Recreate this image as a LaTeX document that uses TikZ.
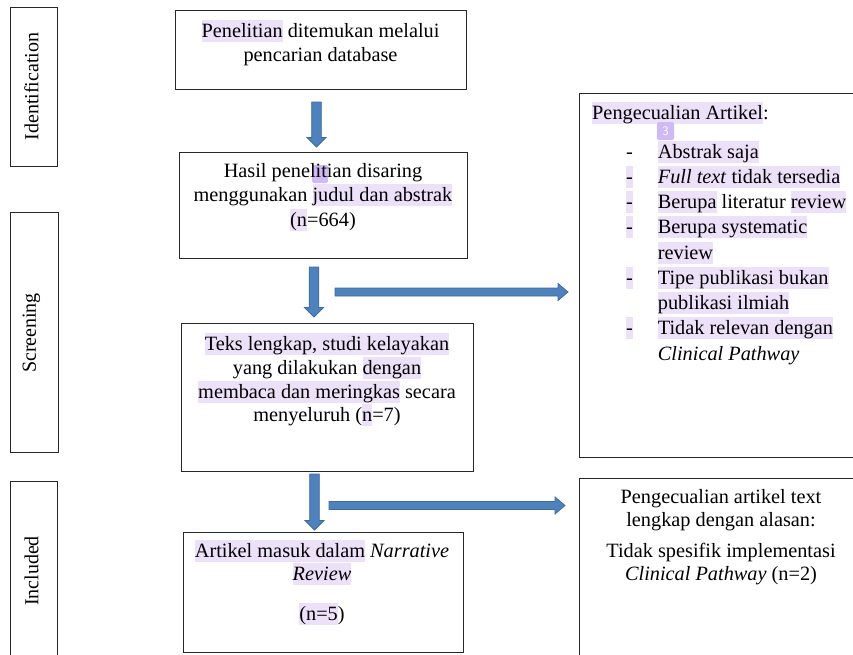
\documentclass[tikz,border=0pt]{standalone}
\usepackage{fontspec}
\setmainfont{Liberation Serif}
\usetikzlibrary{calc}
\definecolor{hlc}{RGB}{237,225,250}
\definecolor{mkc}{RGB}{208,186,245}
\definecolor{arrfill}{RGB}{79,129,189}
\definecolor{arrdraw}{RGB}{62,108,160}
\definecolor{boxc}{RGB}{40,40,40}
\newcommand\hlx[1]{{\setlength{\fboxsep}{0pt}\colorbox{hlc}{\rule[-4.5pt]{0pt}{22pt}#1}}}
\newcommand\sst{\rule[-4.5pt]{0pt}{22pt}}
\newcommand\VArrow[2]{%
  \path let \p1=(#1), \p2=(#2) in [arr]
    (\x1-4.8pt,\y1) -- (\x1+4.8pt,\y1) -- (\x1+4.8pt,\y2+9.5pt) -- (\x1+9.5pt,\y2+9.5pt)
    -- (\x1,\y2) -- (\x1-9.5pt,\y2+9.5pt) -- (\x1-4.8pt,\y2+9.5pt) -- cycle;}
\newcommand\HArrow[2]{%
  \path let \p1=(#1), \p2=(#2) in [arr]
    (\x1,\y1+4pt) -- (\x2-10pt,\y1+4pt) -- (\x2-10pt,\y1+8.5pt) -- (\x2,\y1)
    -- (\x2-10pt,\y1-8.5pt) -- (\x2-10pt,\y1-4pt) -- (\x1,\y1-4pt) -- cycle;}
\begin{document}
\begin{tikzpicture}[x=1pt,y=-1pt,
  box/.style={draw=boxc, line width=1.2pt, anchor=north west, inner sep=0pt, fill=white},
  txt/.style={inner sep=0pt, align=center, anchor=north, font=\fontsize{20.3}{24.5}\selectfont},
  txtl/.style={inner sep=0pt, align=left, anchor=north west, font=\fontsize{20.3}{25.25}\selectfont},
  side/.style={rotate=90, inner sep=0pt, font=\fontsize{20}{24}\selectfont},
  arr/.style={fill=arrfill, draw=arrdraw, line width=0.8pt},
  marker/.style={fill=mkc, inner sep=0pt, rounded corners=2pt}]
\clip (0,0) rectangle (853,654);
\fill[white] (0,0) rectangle (853,654);

% stage boxes
\node[box, minimum width=47, minimum height=159] (sid) at (10,7) {};
\node[box, minimum width=48, minimum height=240] (ssc) at (10,212) {};
\node[box, minimum width=47, minimum height=200] (sin) at (10,481) {};
\node[side] (lid) at (31.5,86.5) {Identification};
\node[side] (lsc) at (31.5,333) {Screening};
\node[side] (lin) at (31.5,571) {Included};

% main boxes
\node[box, minimum width=291, minimum height=79] (b1) at (175,10) {};
\node[box, minimum width=288, minimum height=106] (b2) at (179,152) {};
\node[box, minimum width=292, minimum height=148] (b3) at (181,323) {};
\node[box, minimum width=280, minimum height=120] (b4) at (183,532) {};
\node[box, minimum width=300, minimum height=364] (r1) at (579,93) {};
\node[box, minimum width=300, minimum height=220] (r2) at (579,478) {};

\node[marker, minimum width=16, minimum height=18] (m2) at (320,174) {};

% texts
\node[txt] (t1) at (320.5,19.5) {\sst\hlx{Penelitian} ditemukan melalui\\pencarian database};
\node[txt] (t2) at (323,159.5) {\sst Hasil penelitian disaring\\menggunakan \hlx{judul dan abstrak}\\\hlx{(n}=664)};
\node[txt, font=\fontsize{20.3}{23.6}\selectfont] (t3) at (327,333.2)
  {\hlx{Teks lengkap, studi kelayakan}\\yang dilakukan \hlx{dengan}\\\hlx{membaca dan meringkas} secara\\menyeluruh (\hlx{n}=7)};
\node[txt, font=\fontsize{20.3}{23.5}\selectfont] (t4) at (322,539.5)
  {\hlx{Artikel masuk dalam} \textit{Narrative}\\\hlx{\textit{Review}}\\[16pt]\hlx{(n=5})};

\node[txtl] (rt) at (592,101.5) {\sst\hlx{Pengecualian Artikel}:};
\node[marker, minimum width=17, minimum height=18, text=white,
  font=\sffamily\fontsize{13}{13}\selectfont] (m3) at (665.5,131) {3};
\node[txtl] (rl) at (626,140.5) {%
  \makebox[31.7pt][l]{-}\hlx{Abstrak saja}\\
  \makebox[31.7pt][l]{\hlx{-}}\hlx{\textit{Full text} tidak tersedia}\\
  \makebox[31.7pt][l]{\hlx{-}}\hlx{Berupa} literatur \hlx{review}\\
  \makebox[31.7pt][l]{\hlx{-}}\hlx{Berupa systematic}\\
  \hspace*{31.7pt}\hlx{review}\\
  \makebox[31.7pt][l]{\hlx{-}}\hlx{Tipe publikasi bukan}\\
  \hspace*{31.7pt}\hlx{publikasi ilmiah}\\
  \makebox[31.7pt][l]{\hlx{-}}\hlx{Tidak relevan dengan}\\
  \hspace*{31.7pt}\textit{Clinical Pathway}};
\node[txt, font=\fontsize{20.3}{22.6}\selectfont] (r2t) at (721,486)
  {\sst Pengecualian artikel text\\lengkap dengan alasan:\\[9pt]Tidak spesifik implementasi\\\textit{Clinical Pathway} (n=2)};

% arrows
\coordinate (a1s) at (316.5,102); \coordinate (a1e) at (316.5,147);
\coordinate (a2s) at (314,267);   \coordinate (a2e) at (314,317);
\coordinate (a3s) at (314.5,474); \coordinate (a3e) at (314.5,530);
\coordinate (h1s) at (335,292);   \coordinate (h1e) at (568,292);
\coordinate (h2s) at (329,505.5); \coordinate (h2e) at (565,505.5);
\VArrow{a1s}{a1e}
\VArrow{a2s}{a2e}
\VArrow{a3s}{a3e}
\HArrow{h1s}{h1e}
\HArrow{h2s}{h2e}
\end{tikzpicture}
\end{document}
